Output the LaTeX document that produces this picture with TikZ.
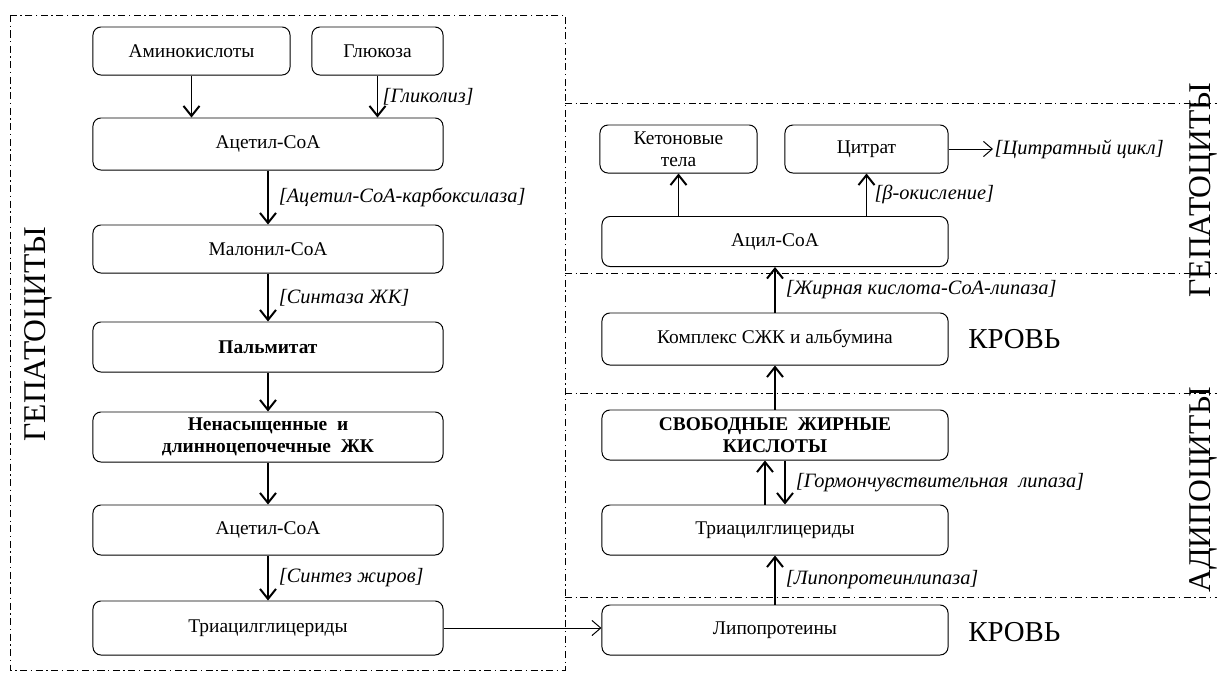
\documentclass[tikz,border=0pt]{standalone}
\usepackage{fontspec}
\setmainfont{Liberation Serif}
\usetikzlibrary{arrows.meta}
\tikzset{
  box/.style={draw, rounded corners=0.2cm, line width=0.7pt, minimum width=8.75cm,
    minimum height=1.25cm, align=center, inner sep=1pt, font=\fontsize{13.8}{15.5}\selectfont},
  rbox/.style={box, minimum width=8.65cm},
  enz/.style={font=\fontsize{14.5}{16}\selectfont\itshape, inner sep=1pt},
  flow/.style={line width=1.4pt, -{Straight Barb[length=0.25cm,width=0.4cm]}},
  link/.style={line width=0.7pt, -{Straight Barb[length=0.22cm,width=0.38cm]}},
  zone/.style={line width=0.6pt, dash pattern=on 5pt off 2.5pt on 1pt off 2.5pt},
  side/.style={font=\fontsize{22.5}{24}\selectfont, inner sep=0pt},
  blood/.style={font=\fontsize{20.5}{22}\selectfont, anchor=west, inner sep=0pt},
}
\begin{document}
\begin{tikzpicture}[x=0.025cm, y=-0.025cm]
  \useasboundingbox (0,0) rectangle (1217,673);
  \draw[zone] (10,15) rectangle (565,670);
  \draw[zone] (565,103) -- (1217,103) (565,273) -- (1217,273)
    (565,393) -- (1217,393) (565,597) -- (1217,597);

  \node[box, minimum width=4.925cm, minimum height=1.2cm] (amino) at (191.5,51) {Аминокислоты};
  \node[box, minimum width=3.275cm, minimum height=1.2cm] (gluc) at (377.5,51) {Глюкоза};
  \node[box, minimum height=1.3cm] (acetA) at (268,144) {Ацетил-СоА};
  \node[box, minimum height=1.2cm] (malon) at (268,249) {Малонил-СоА};
  \node[box] (palm) at (268,347) {\bfseries Пальмитат};
  \node[box] (unsat) at (268,437) {\bfseries Ненасыщенные \ и\\ \bfseries длинноцепочечные \ ЖК};
  \node[box] (acetB) at (268,530) {Ацетил-СоА};
  \node[box, minimum height=1.35cm] (tagA) at (268,628) {Триацилглицериды};

  \node[box, minimum width=3.925cm, minimum height=1.2cm] (keton) at (678.5,149) {Кетоновые\\тела};
  \node[box, minimum width=4.075cm, minimum height=1.2cm] (citr) at (866.5,149) {Цитрат};
  \node[rbox] (acyl) at (775,241.5) {Ацил-СоА};
  \node[rbox, minimum height=1.3cm] (compl) at (775,339) {Комплекс СЖК и альбумина};
  \node[rbox] (ffa) at (775,435) {\bfseries СВОБОДНЫЕ \ ЖИРНЫЕ\\ \bfseries КИСЛОТЫ};
  \node[rbox] (tagB) at (775,530) {Триацилглицериды};
  \node[rbox] (lipo) at (775,630) {Липопротеины};

  \node[enz, anchor=west] (cyc) at (993,149) {[Цитратный цикл]};
  \node[blood] (bloodA) at (968,339) {КРОВЬ};
  \node[blood] (bloodB) at (968,632) {КРОВЬ};
  \node[side, rotate=90] (hepL) at (38,334) {ГЕПАТОЦИТЫ};
  \node[side, rotate=90] (hepR) at (1203,190) {ГЕПАТОЦИТЫ};
  \node[side, rotate=90] (adip) at (1203,490) {АДИПОЦИТЫ};

  \draw[flow] (amino.south) -- (amino.south |- acetA.north);
  \draw[flow] (gluc.south) -- (gluc.south |- acetA.north)
    node[enz, midway, right=2pt] {[Гликолиз]};
  \draw[flow] (acetA) -- (malon)
    node[enz, midway, right=6pt] {[Ацетил-СоА-карбоксилаза]};
  \draw[flow] (malon) -- (palm)
    node[enz, midway, right=6pt] {[Синтаза ЖК]};
  \draw[flow] (palm) -- (unsat);
  \draw[flow] (unsat) -- (acetB);
  \draw[flow] (acetB) -- (tagA)
    node[enz, midway, right=6pt] {[Синтез жиров]};
  \draw[link] (tagA.east) -- (tagA.east -| lipo.west);

  \draw[flow] (keton.south |- acyl.north) -- (keton.south);
  \draw[flow] (citr.south |- acyl.north) -- (citr.south)
    node[enz, midway, right=4pt] {[β-окисление]};
  \draw[link] (citr.east) -- (cyc.west);
  \draw[flow] (compl) -- (acyl)
    node[enz, midway, right=6pt] {[Жирная кислота-СоА-липаза]};
  \draw[flow] (ffa) -- (compl);
  \draw[flow] ([xshift=-0.25cm]tagB.north) -- ([xshift=-0.25cm]ffa.south);
  \draw[flow] ([xshift=0.25cm]ffa.south) -- ([xshift=0.25cm]tagB.north)
    node[enz, midway, right=6pt] {[Гормончувствительная \ липаза]};
  \draw[flow] (lipo) -- (tagB)
    node[enz, midway, right=6pt] {[Липопротеинлипаза]};
\end{tikzpicture}
\end{document}
